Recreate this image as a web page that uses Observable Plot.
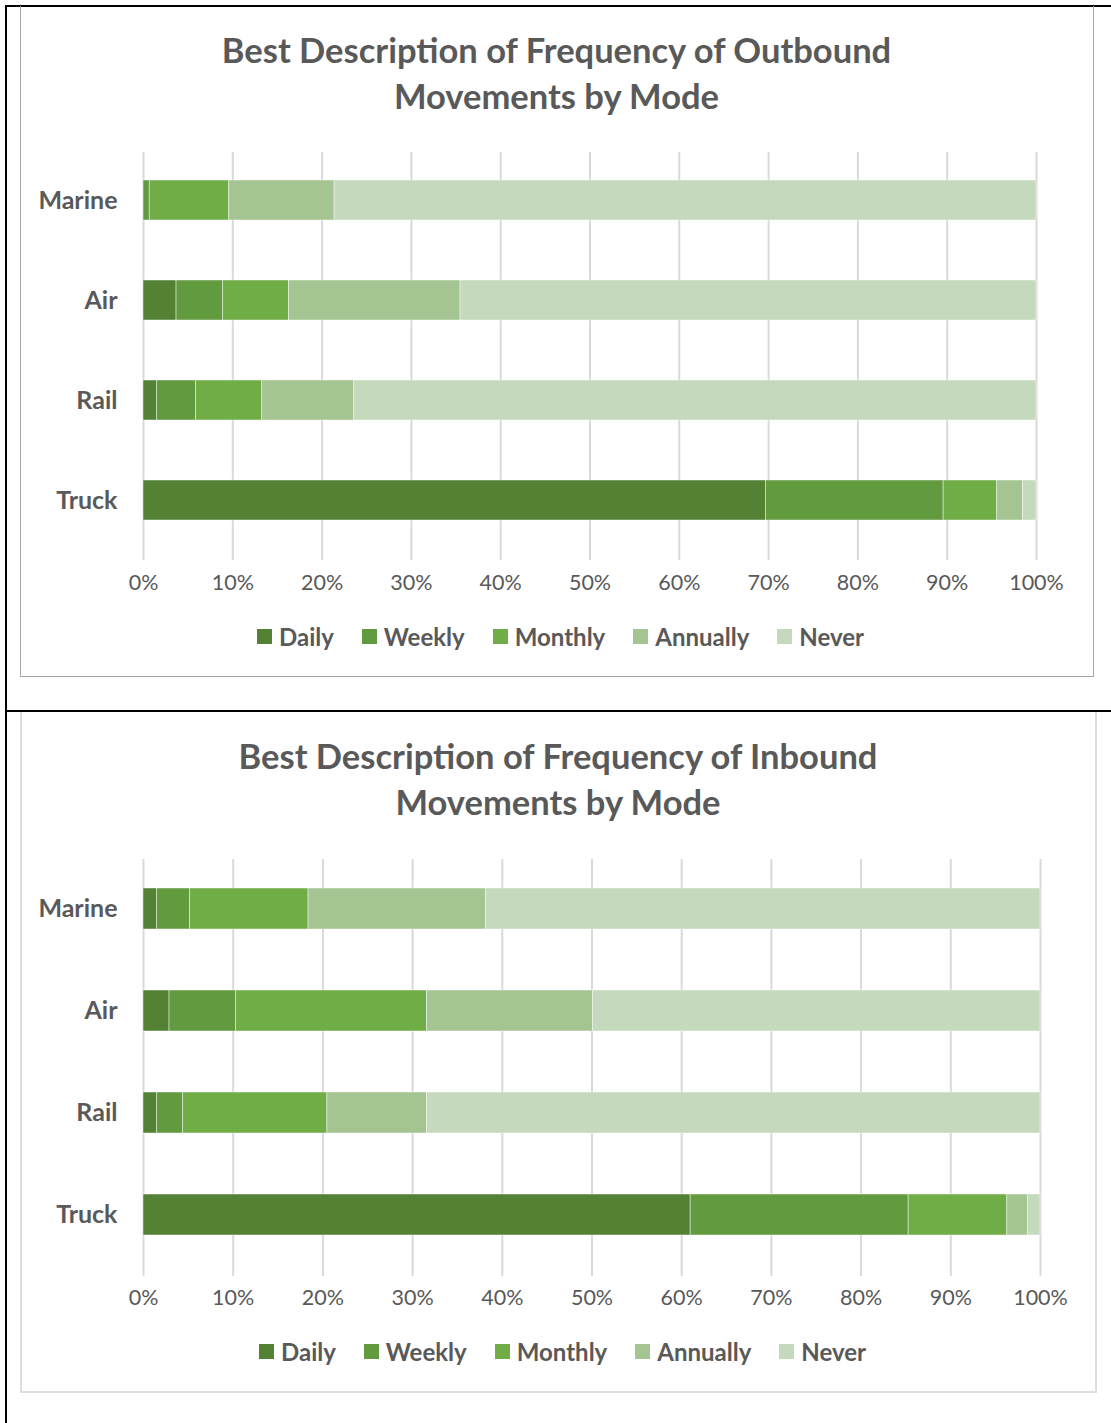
<!DOCTYPE html>
<html><head><meta charset="utf-8">
<script src="https://cdn.jsdelivr.net/npm/d3@7"></script>
<script src="https://cdn.jsdelivr.net/npm/@observablehq/plot@0.6"></script>
<style>
body{margin:0;width:1111px;height:1423px;position:relative;background:#fff;font-family:Lato,"Open Sans",sans-serif;overflow:hidden}
.bl{position:absolute;background:#000}
.box{position:absolute;box-sizing:border-box}
.title{position:absolute;text-align:center;font-weight:700;font-size:34.5px;color:#595959;line-height:46px;white-space:nowrap}
.legend{position:absolute;display:flex;align-items:center;font-size:24px;font-weight:700;color:#595959;white-space:nowrap}
.legend .it{display:flex;align-items:center;margin-right:28px}
.legend .it:last-child{margin-right:0}
.legend .sw{width:15px;height:15px;margin-right:7px}
.plot{position:absolute;left:0}
</style></head>
<body>
<div class="bl" style="left:5px;top:5px;width:1106px;height:2px"></div>
<div class="bl" style="left:5px;top:5px;width:2px;height:1418px"></div>
<div class="bl" style="left:5px;top:710px;width:1106px;height:2px"></div>
<div class="box" style="left:20px;top:6px;width:1074px;height:671px;border:1.5px solid #a6a6a6;border-top:none"></div>
<div class="box" style="left:20px;top:712px;width:1077px;height:681px;border:2px solid #dedede;border-top:none"></div>
<div id="c1"></div>
<div id="c2"></div>
<script>
const modes = ["Marine", "Air", "Rail", "Truck"];
const freqs = ["Daily", "Weekly", "Monthly", "Annually", "Never"];
const colors = ["#548235", "#629b3f", "#70ad47", "#a4c591", "#c5d9bc"];
const ticks = [0, 10, 20, 30, 40, 50, 60, 70, 80, 90, 100];

// Outbound (% of respondents), order: Marine, Air, Rail, Truck
const outDaily    = [0.0, 3.7, 1.5, 69.7];
const outWeekly   = [0.7, 5.2, 4.4, 19.9];
const outMonthly  = [8.9, 7.4, 7.4, 6.0];
const outAnnually = [11.8, 19.2, 10.3, 2.9];
const outNever    = [78.6, 64.5, 76.4, 1.5];

// Inbound
const inDaily    = [1.5, 2.9, 1.5, 61.0];
const inWeekly   = [3.7, 7.4, 2.9, 24.3];
const inMonthly  = [13.2, 21.3, 16.1, 11.0];
const inAnnually = [19.8, 18.5, 11.1, 2.3];
const inNever    = [61.8, 49.9, 68.4, 1.4];

function table(series) {
  const rows = [];
  modes.forEach((m, i) => freqs.forEach((f, j) => rows.push({mode: m, freq: f, value: series[j][i]})));
  return rows;
}

function chart(id, cfg) {
  const data = table(cfg.series);
  const root = document.getElementById(id);
  const t = document.createElement("div");
  t.className = "title";
  t.style.left = cfg.titleLeft + "px"; t.style.width = cfg.titleWidth + "px"; t.style.top = cfg.titleTop + "px";
  t.innerHTML = cfg.title.join("<br>");
  root.appendChild(t);

  const p = Plot.plot({
    width: 1111, height: cfg.height,
    marginLeft: 143, marginRight: cfg.marginRight, marginTop: 50, marginBottom: cfg.height - 50 - cfg.frame,
    style: {color: "#595959", fontFamily: "Lato, 'Open Sans', sans-serif", background: "transparent", overflow: "visible"},
    x: {domain: [0, 100], label: null},
    y: {domain: modes, paddingInner: 0.6, paddingOuter: 0.3, label: null},
    color: {domain: freqs, range: colors},
    marks: [
      Plot.ruleX(ticks, {stroke: "#d9d9d9", strokeWidth: 2, insetBottom: -10, insetTop: 2}),
      Plot.barX(data, {x: "value", y: "mode", fill: "freq", stroke: "white", strokeWidth: 0.75, strokeOpacity: 0.6}),
      Plot.axisX({ticks, tickSize: 0, tickPadding: cfg.tickPad, tickFormat: d => d + "%", fontSize: 21.5, fill: "#595959", label: null}),
      Plot.axisY({tickSize: 0, tickPadding: 26, fontSize: 25, fontWeight: "bold", fill: "#595959", label: null})
    ]
  });
  p.classList.add("plot");
  p.style.top = cfg.svgTop + "px";
  root.appendChild(p);

  const lg = document.createElement("div");
  lg.className = "legend";
  lg.style.left = cfg.legendLeft + "px"; lg.style.top = cfg.legendTop + "px";
  freqs.forEach((f, i) => {
    const it = document.createElement("div"); it.className = "it";
    const sw = document.createElement("div"); sw.className = "sw"; sw.style.background = colors[i];
    const tx = document.createElement("span"); tx.textContent = f;
    it.appendChild(sw); it.appendChild(tx); lg.appendChild(it);
  });
  root.appendChild(lg);
}

chart("c1", {
  title: ["Best Description of Frequency of Outbound", "Movements by Mode"],
  titleLeft: 20, titleWidth: 1073, titleTop: 27,
  series: [outDaily, outWeekly, outMonthly, outAnnually, outNever],
  svgTop: 100, height: 500, frame: 400, marginRight: 75, tickPad: 24,
  legendLeft: 257, legendTop: 622
});
chart("c2", {
  title: ["Best Description of Frequency of Inbound", "Movements by Mode"],
  titleLeft: 20, titleWidth: 1076, titleTop: 733,
  series: [inDaily, inWeekly, inMonthly, inAnnually, inNever],
  svgTop: 807, height: 509, frame: 409, marginRight: 71, tickPad: 23,
  legendLeft: 259, legendTop: 1337
});
</script>
</body></html>
